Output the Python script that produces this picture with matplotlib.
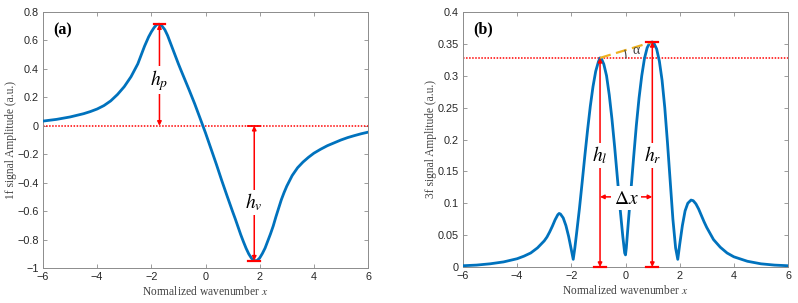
import numpy as np
import matplotlib
matplotlib.use("Agg")
import matplotlib.pyplot as plt

plt.rcParams['mathtext.fontset'] = 'stix'

# ---------------- data ----------------
x_1f = [-6.0, -5.5, -5.0, -4.5, -4.25, -4.0, -3.75, -3.5, -3.25, -3.0, -2.75, -2.5, -2.25,
        -2.1, -2.0, -1.9, -1.8, -1.7, -1.6, -1.5, -1.4, -1.3, -1.2, -1.1, -1.0, -0.9, -0.8,
        -0.6, -0.4, -0.2, 0.0, 0.2, 0.4, 0.6, 0.8, 1.0, 1.1, 1.2, 1.3, 1.4, 1.5, 1.6, 1.7,
        1.8, 1.9, 2.0, 2.1, 2.2, 2.3, 2.4, 2.5, 2.6, 2.7, 2.8, 2.9, 3.0, 3.2, 3.4, 3.6, 3.8,
        4.0, 4.25, 4.5, 4.75, 5.0, 5.25, 5.5, 5.75, 6.0]
y_1f = [0.033, 0.045, 0.062, 0.085, 0.1, 0.118, 0.142, 0.175, 0.22, 0.275, 0.345, 0.435, 0.56,
        0.625, 0.66, 0.69, 0.712, 0.714, 0.70, 0.675, 0.635, 0.585, 0.535, 0.485, 0.435, 0.388, 0.342,
        0.25, 0.155, 0.053, -0.05, -0.16, -0.27, -0.385, -0.495, -0.603, -0.655, -0.71, -0.765,
        -0.815, -0.862, -0.902, -0.932, -0.948, -0.948, -0.93, -0.898, -0.86, -0.81, -0.76,
        -0.705, -0.64, -0.58, -0.52, -0.47, -0.425, -0.35, -0.295, -0.255, -0.222,
        -0.193, -0.165, -0.14, -0.12, -0.1, -0.083, -0.069, -0.056, -0.045]

x_3f = [-6.0, -5.5, -5.0, -4.5, -4.0, -3.75, -3.5, -3.25, -3.0, -2.9, -2.8, -2.7, -2.6, -2.5,
        -2.45, -2.4, -2.3, -2.2, -2.1, -2.0, -1.93, -1.87, -1.8, -1.7, -1.6, -1.5, -1.4, -1.3,
        -1.2, -1.1, -1.0, -0.94, -0.88, -0.8, -0.7, -0.6, -0.5, -0.4, -0.3, -0.2, -0.1, -0.03,
        0.0, 0.03, 0.1, 0.2, 0.3, 0.4, 0.5, 0.6, 0.7, 0.8, 0.9, 0.99, 1.05, 1.15, 1.25, 1.35,
        1.45, 1.55, 1.65, 1.75, 1.85, 1.93, 2.0, 2.1, 2.2, 2.3, 2.42, 2.5, 2.6, 2.7, 2.8, 2.9,
        3.0, 3.25, 3.5, 3.75, 4.0, 4.5, 5.0, 5.5, 6.0]
y_3f = [0.002, 0.003, 0.005, 0.008, 0.013, 0.017, 0.022, 0.03, 0.041, 0.047, 0.055, 0.064, 0.074, 0.082,
        0.084, 0.083, 0.077, 0.065, 0.048, 0.027, 0.012, 0.03, 0.055, 0.092, 0.133, 0.175, 0.215, 0.252,
        0.283, 0.307, 0.322, 0.328, 0.326, 0.318, 0.30, 0.27, 0.232, 0.188, 0.14, 0.092, 0.048, 0.022,
        0.019, 0.03, 0.068, 0.12, 0.172, 0.222, 0.265, 0.30, 0.327, 0.344, 0.352, 0.353, 0.351, 0.342, 0.323, 0.293,
        0.25, 0.195, 0.135, 0.075, 0.03, 0.012, 0.035, 0.065, 0.088, 0.10, 0.105, 0.104, 0.099, 0.091, 0.081, 0.071,
        0.062, 0.043, 0.031, 0.022, 0.016, 0.009, 0.005, 0.003, 0.002]

xticks = [-6, -4, -2, 0, 2, 4, 6]
yticks_a = [-1, -0.8, -0.6, -0.4, -0.2, 0, 0.2, 0.4, 0.6, 0.8]
yticks_b = [0, 0.05, 0.1, 0.15, 0.2, 0.25, 0.3, 0.35, 0.4]

BLUE = '#0072BD'
RED = '#FF0000'
ORANGE = '#EDB120'
GRAY = '#262626'
SPINE = '#8c8c8c'

fig = plt.figure(figsize=(7.98, 3.03), dpi=100)
axa = fig.add_axes([43/798, 1-268/303, 325/798, 256/303])
axb = fig.add_axes([463/798, 1-267/303, 325/798, 255/303])

def style(ax, yticks, ylim, ylabel):
    ax.set_xlim(-6, 6)
    ax.set_ylim(*ylim)
    ax.set_xticks(xticks)
    ax.set_xticklabels(['\u2212' + str(abs(t)) if t < 0 else str(t) for t in xticks])
    ax.set_yticks(yticks)
    ax.set_yticklabels([('\u2212' if t < 0 else '') + ('%g' % abs(t)) for t in yticks])
    ax.tick_params(direction='in', length=3, width=0.6, top=True, right=True,
                   colors=SPINE, labelcolor=GRAY, labelsize=7.8, pad=3)
    for lab in ax.get_xticklabels() + ax.get_yticklabels():
        lab.set_family('Liberation Sans')
    for s in ax.spines.values():
        s.set_color(SPINE)
        s.set_linewidth(0.7)
    ax.set_xlabel('Normalized wavenumber $x$', family='Liberation Serif', fontsize=8.3,
                  color='#404040', labelpad=2)
    ax.set_ylabel(ylabel, family='Liberation Serif', fontsize=8.3, color='#404040')
    ax.yaxis.set_label_coords(-0.08, 0.5)

style(axa, yticks_a, (-1, 0.8), '1f signal Amplitude (a.u.)')
style(axb, yticks_b, (0, 0.4), '3f signal Amplitude (a.u.)')

axa.plot(x_1f, y_1f, color=BLUE, lw=2.0, zorder=3, solid_joinstyle='round')
axb.plot(x_3f, y_3f, color=BLUE, lw=2.0, zorder=3, solid_joinstyle='round')

lab_kw = dict(family='Liberation Serif', fontweight='bold', fontsize=11.5, color='black')
axa.text(0.03, 0.93, '(a)', transform=axa.transAxes, va='center', ha='left', **lab_kw)
axb.text(0.03, 0.93, '(b)', transform=axb.transAxes, va='center', ha='left', **lab_kw)

arrow_kw = dict(arrowstyle='<|-|>', color=RED, lw=1.1, mutation_scale=6,
                shrinkA=0, shrinkB=0)
box = dict(fc='white', ec='none', pad=1.0)

# ---------- panel (a) annotations ----------
ia = int(np.argmax(y_1f)); iv = int(np.argmin(y_1f))
xp, yp = x_1f[ia], y_1f[ia]
xv, yv = x_1f[iv], y_1f[iv]
axa.axhline(0, color=RED, ls=(0, (1, 1)), lw=1.1, zorder=2)
axa.annotate('', xy=(xp, yp), xytext=(xp, 0), arrowprops=arrow_kw, zorder=4)
axa.annotate('', xy=(xv, yv), xytext=(xv, 0), arrowprops=arrow_kw, zorder=4)
capw = 0.22
axa.plot([xp - capw, xp + capw], [yp, yp], color=RED, lw=1.6, zorder=5)
axa.plot([xv - capw, xv + capw], [yv, yv], color=RED, lw=1.6, zorder=5)
axa.plot([xv - capw, xv + capw], [0, 0], color=RED, lw=1.3, zorder=5)
axa.text(xp, yp * 0.45, '$h_p$', ha='center', va='center', fontsize=14, bbox=box, zorder=6)
axa.text(xv, yv * 0.57, '$h_v$', ha='center', va='center', fontsize=14, bbox=box, zorder=6)

# ---------- panel (b) annotations ----------
mid = x_3f.index(0.0)
il = int(np.argmax(y_3f[:mid])); ir = mid + int(np.argmax(y_3f[mid:]))
xl, yl = x_3f[il], y_3f[il]
xr, yr = x_3f[ir], y_3f[ir]
axb.axhline(yl, color=RED, ls=(0, (1, 1)), lw=1.1, zorder=2)
axb.plot([xl, xr], [yl, yr], color=ORANGE, lw=1.6, ls=(0, (5, 2.5)), zorder=4)
axb.annotate('', xy=(xl, yl), xytext=(xl, 0), arrowprops=arrow_kw, zorder=4)
axb.annotate('', xy=(xr, yr), xytext=(xr, 0), arrowprops=arrow_kw, zorder=4)
axb.plot([xl - capw, xl + capw], [0, 0], color=RED, lw=1.6, zorder=5, clip_on=False)
axb.plot([xr - capw, xr + capw], [0, 0], color=RED, lw=1.6, zorder=5, clip_on=False)
axb.plot([xr - capw, xr + capw], [yr, yr], color=RED, lw=1.6, zorder=5)
axb.annotate('', xy=(xr, 0.11), xytext=(xl, 0.11), arrowprops=arrow_kw, zorder=4)
axb.text(xl, 0.175, '$h_l$', ha='center', va='center', fontsize=14, bbox=box, zorder=6)
axb.text(xr, 0.175, '$h_r$', ha='center', va='center', fontsize=14, bbox=box, zorder=6)
axb.text((xl + xr) / 2, 0.108, r'$\Delta x$', ha='center', va='center', fontsize=14,
         bbox=dict(fc='white', ec='none', pad=2.0), zorder=6)

# angle arc (drawn in display space around the left peak)
fig.canvas.draw()
c = axb.transData.transform((xl, yl))
e = axb.transData.transform((xr, yr))
ang = np.arctan2(e[1] - c[1], e[0] - c[0])
rad = 26.0
th = np.linspace(0, ang, 20)
pts = np.column_stack([c[0] + rad * np.cos(th), c[1] + rad * np.sin(th)])
dpts = axb.transData.inverted().transform(pts)
axb.plot(dpts[:, 0], dpts[:, 1], color='#404040', lw=0.8, zorder=5)
lp = axb.transData.inverted().transform((c[0] + rad + 10, c[1] + 7))
axb.text(lp[0], lp[1], '\u03b1', family='Liberation Serif', fontsize=10, color='#404040',
         ha='center', va='center', zorder=6)

fig.savefig('out.png', dpi=100)
